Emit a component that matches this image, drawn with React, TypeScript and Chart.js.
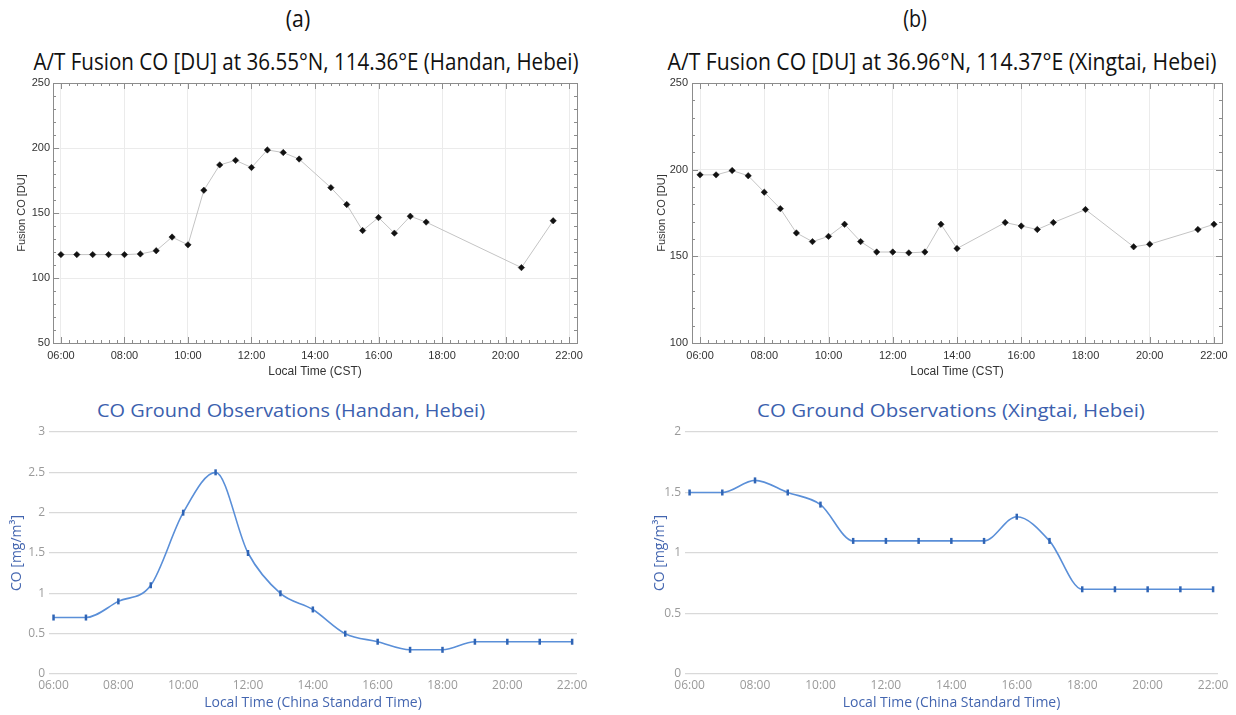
import React, { useEffect, useLayoutEffect, useRef } from "react";
import { Chart, registerables } from "chart.js";
Chart.register(...registerables);

// ---------- data ----------
const handanFusionHours = [6, 6.5, 7, 7.5, 8, 8.5, 9, 9.5, 10, 10.5, 11, 11.5, 12, 12.5, 13, 13.5, 14.5, 15, 15.5, 16, 16.5, 17, 17.5, 20.5, 21.5];
const handanFusionValues = [118, 118, 118, 118, 118, 118.5, 121, 131.5, 125.5, 167.5, 187, 190.5, 185, 198.5, 196.5, 191.5, 169.5, 156.5, 136.5, 146.5, 134.5, 147.5, 143, 108, 144];

const xingtaiFusionHours = [6, 6.5, 7, 7.5, 8, 8.5, 9, 9.5, 10, 10.5, 11, 11.5, 12, 12.5, 13, 13.5, 14, 15.5, 16, 16.5, 17, 18, 19.5, 20, 21.5, 22];
const xingtaiFusionValues = [197, 197, 199.5, 196.5, 187, 177.5, 163.5, 158.5, 161.5, 168.5, 158.5, 152.5, 152.5, 152, 152.5, 168.5, 154.5, 169.5, 167.5, 165.5, 169.5, 177, 155.5, 157, 165.5, 168.5];

const groundHours = [6, 7, 8, 9, 10, 11, 12, 13, 14, 15, 16, 17, 18, 19, 20, 21, 22];
const handanGroundValues = [0.7, 0.7, 0.9, 1.1, 2.0, 2.5, 1.5, 1.0, 0.8, 0.5, 0.4, 0.3, 0.3, 0.4, 0.4, 0.4, 0.4];
const xingtaiGroundValues = [1.5, 1.5, 1.6, 1.5, 1.4, 1.1, 1.1, 1.1, 1.1, 1.1, 1.3, 1.1, 0.7, 0.7, 0.7, 0.7, 0.7];

const xTickHours = [6, 8, 10, 12, 14, 16, 18, 20, 22];
const xTickLabels = ["06:00", "08:00", "10:00", "12:00", "14:00", "16:00", "18:00", "20:00", "22:00"];
const handanFusionYTicks = [50, 100, 150, 200, 250];
const xingtaiFusionYTicks = [100, 150, 200, 250];
const handanGroundYTicks = [0, 0.5, 1, 1.5, 2, 2.5, 3];
const xingtaiGroundYTicks = [0, 0.5, 1, 1.5, 2];

// ---------- helpers ----------
const xLabel = (v: any) => {
  const i = xTickHours.indexOf(Number(v));
  return i >= 0 ? xTickLabels[i] : "";
};
const setTicks = (arr: number[]) => (scale: any) => {
  scale.ticks = arr.map((v) => ({ value: v }));
};

const SANS = '"Liberation Sans", Arial, sans-serif';
const MYRIAD = '"Open Sans", "Noto Sans", sans-serif';
const COND = '"Open Sans", "Noto Sans", sans-serif';

// frame with inward major/minor ticks on all four sides (IDL style)
const idlFrame = (xMinor: number, xMajor: number, yMinor: number, yMajor: number) => ({
  id: "idlFrame",
  afterDatasetsDraw(chart: any) {
    const { ctx, chartArea: a, scales } = chart;
    const xs = scales.x;
    const ys = scales.y;
    ctx.save();
    ctx.strokeStyle = "#8c8c8c";
    ctx.lineWidth = 1;
    ctx.strokeRect(Math.round(a.left) + 0.5, Math.round(a.top) + 0.5, Math.round(a.right - a.left), Math.round(a.bottom - a.top));
    ctx.beginPath();
    const eps = 1e-6;
    for (let v = Math.ceil(xs.min / xMinor) * xMinor; v <= xs.max + eps; v += xMinor) {
      const px = Math.round(xs.getPixelForValue(v)) + 0.5;
      const major = Math.abs(v / xMajor - Math.round(v / xMajor)) < 1e-6;
      const len = major ? 6 : 3;
      ctx.moveTo(px, a.bottom);
      ctx.lineTo(px, a.bottom - len);
      ctx.moveTo(px, a.top);
      ctx.lineTo(px, a.top + len);
    }
    for (let v = Math.ceil(ys.min / yMinor) * yMinor; v <= ys.max + eps; v += yMinor) {
      const py = Math.round(ys.getPixelForValue(v)) + 0.5;
      const major = Math.abs(v / yMajor - Math.round(v / yMajor)) < 1e-6;
      const len = major ? 6 : 3;
      ctx.moveTo(a.left, py);
      ctx.lineTo(a.left + len, py);
      ctx.moveTo(a.right, py);
      ctx.lineTo(a.right - len, py);
    }
    ctx.stroke();
    ctx.restore();
  },
});

function fusionConfig(hours: number[], values: number[], yMin: number, yMax: number, yTicks: number[], yAxisWidth: number, yTitlePad: number, yLabelPad: number, rightPad: number) {
  return {
    type: "line",
    data: {
      datasets: [
        {
          data: hours.map((h, i) => ({ x: h, y: values[i] })),
          borderColor: "#c4c4c4",
          borderWidth: 1,
          pointStyle: "rectRot",
          pointRadius: 3.2,
          pointBackgroundColor: "#111",
          pointBorderColor: "#111",
          pointBorderWidth: 0.5,
          tension: 0,
        },
      ],
    },
    options: {
      animation: false,
      responsive: false,
      maintainAspectRatio: false,
      layout: { padding: { top: 13, right: rightPad, left: 0, bottom: 0 } },
      plugins: { legend: { display: false }, tooltip: { enabled: false } },
      scales: {
        x: {
          type: "linear",
          min: 5.75,
          max: 22.25,
          afterBuildTicks: setTicks(xTickHours),
          afterFit: (s: any) => { s.height = 42; },
          grid: { color: "#ebebeb", drawTicks: false },
          border: { display: false },
          ticks: { padding: 6, color: "#333", font: { family: SANS, size: 11 }, callback: xLabel, maxRotation: 0, autoSkip: false },
          title: { display: true, text: "Local Time (CST)", color: "#333", font: { family: SANS, size: 12 }, padding: { top: 0, bottom: 6 } },
        },
        y: {
          type: "linear",
          min: yMin,
          max: yMax,
          afterBuildTicks: setTicks(yTicks),
          afterFit: (s: any) => { s.width = yAxisWidth; },
          grid: { color: "#ebebeb", drawTicks: false },
          border: { display: false },
          ticks: { padding: yLabelPad, color: "#333", font: { family: SANS, size: 11 }, callback: (v: any) => String(v) },
          title: { display: true, text: "Fusion CO [DU]", color: "#333", font: { family: SANS, size: 11 }, padding: { top: yTitlePad, bottom: 0 } },
        },
      },
    },
    plugins: [idlFrame(0.25, 2, 10, 50)],
  };
}

function groundConfig(values: number[], yMax: number, yTicks: number[], yAxisWidth: number, yTitlePad: number, rightPad: number) {
  return {
    type: "line",
    data: {
      datasets: [
        {
          data: groundHours.map((h, i) => ({ x: h, y: values[i] })),
          borderColor: "#5a8fd8",
          borderWidth: 1.6,
          cubicInterpolationMode: "monotone",
          pointStyle: "line",
          rotation: 90,
          pointRadius: 3,
          pointBorderWidth: 2.5,
          pointBorderColor: "#2f64b5",
          pointBackgroundColor: "#2f64b5",
        },
      ],
    },
    options: {
      animation: false,
      responsive: false,
      maintainAspectRatio: false,
      layout: { padding: { top: 12, right: rightPad, left: 0, bottom: 0 } },
      plugins: { legend: { display: false }, tooltip: { enabled: false } },
      scales: {
        x: {
          type: "linear",
          min: 5.86,
          max: 22.15,
          afterBuildTicks: setTicks(xTickHours),
          afterFit: (s: any) => { s.height = 41; },
          grid: { display: false, drawTicks: false },
          border: { display: false },
          ticks: { padding: 4, color: "#9a9a9a", font: { family: MYRIAD, size: 12 }, callback: xLabel, maxRotation: 0, autoSkip: false },
          title: { display: true, text: "Local Time (China Standard Time)", color: "#4466b0", font: { family: MYRIAD, size: 14 }, padding: { top: 0, bottom: 4 } },
        },
        y: {
          type: "linear",
          min: 0,
          max: yMax,
          afterBuildTicks: setTicks(yTicks),
          afterFit: (s: any) => { s.width = yAxisWidth; },
          grid: { color: "#d9d9d9", drawTicks: false, lineWidth: 1.2 },
          border: { display: false },
          ticks: { padding: 4, color: "#9a9a9a", font: { family: MYRIAD, size: 12 }, callback: (v: any) => String(v) },
          title: { display: true, text: "CO [mg/m³]", color: "#4466b0", font: { family: MYRIAD, size: 14 }, padding: { top: yTitlePad, bottom: 0 } },
        },
      },
    },
  };
}

function ChartBox({ config, left, top, width, height }: any) {
  const ref = useRef<HTMLCanvasElement | null>(null);
  useEffect(() => {
    if (!ref.current) return;
    const chart = new Chart(ref.current, config);
    return () => chart.destroy();
  }, []);
  return (
    <canvas
      ref={ref}
      width={width}
      height={height}
      style={{ position: "absolute", left, top, width, height, display: "block" }}
    />
  );
}

// text label centred at (cx, cy); optionally squeezed/stretched horizontally to a target width
function Label({ text, cx, cy, size, family, color, targetWidth }: any) {
  const ref = useRef<HTMLDivElement | null>(null);
  useLayoutEffect(() => {
    const el = ref.current;
    if (!el || !targetWidth) return;
    const w = el.scrollWidth;
    if (w > 0) el.style.transform = `translateX(-50%) scaleX(${targetWidth / w})`;
  }, []);
  return (
    <div
      ref={ref}
      style={{
        position: "absolute",
        left: cx,
        top: cy - size * 0.6,
        transform: "translateX(-50%)",
        transformOrigin: "50% 50%",
        whiteSpace: "nowrap",
        fontSize: size,
        lineHeight: `${size * 1.2}px`,
        fontFamily: family,
        color,
      }}
    >
      {text}
    </div>
  );
}

export default function App() {
  return (
    <div style={{ position: "absolute", left: 0, top: 0, width: 1236, height: 715, background: "#fff", overflow: "hidden" }}>
      <Label text="(a)" cx={298} cy={19} size={23} family={COND} color="#111" targetWidth={24} />
      <Label text="(b)" cx={915} cy={19} size={23} family={COND} color="#111" targetWidth={24} />
      <Label text="A/T Fusion CO [DU] at 36.55°N, 114.36°E (Handan, Hebei)" cx={306} cy={62} size={23} family={COND} color="#111" targetWidth={545} />
      <Label text="A/T Fusion CO [DU] at 36.96°N, 114.37°E (Xingtai, Hebei)" cx={942} cy={62} size={23} family={COND} color="#111" targetWidth={549} />
      <Label text="CO Ground Observations (Handan, Hebei)" cx={291} cy={410} size={19} family={MYRIAD} color="#3c5fae" targetWidth={388} />
      <Label text="CO Ground Observations (Xingtai, Hebei)" cx={951} cy={410} size={19} family={MYRIAD} color="#3c5fae" targetWidth={388} />

      <ChartBox
        left={0}
        top={70}
        width={620}
        height={315}
        config={fusionConfig(handanFusionHours, handanFusionValues, 50, 250, handanFusionYTicks, 53, 15, 3, 43)}
      />
      <ChartBox
        left={620}
        top={70}
        width={616}
        height={315}
        config={fusionConfig(xingtaiFusionHours, xingtaiFusionValues, 100, 250, xingtaiFusionYTicks, 72, 35, 4, 14)}
      />
      <ChartBox
        left={0}
        top={420}
        width={620}
        height={295}
        config={groundConfig(handanGroundValues, 3, handanGroundYTicks, 49, 9, 43)}
      />
      <ChartBox
        left={620}
        top={420}
        width={616}
        height={295}
        config={groundConfig(xingtaiGroundValues, 2, xingtaiGroundYTicks, 65, 32, 18)}
      />
    </div>
  );
}
